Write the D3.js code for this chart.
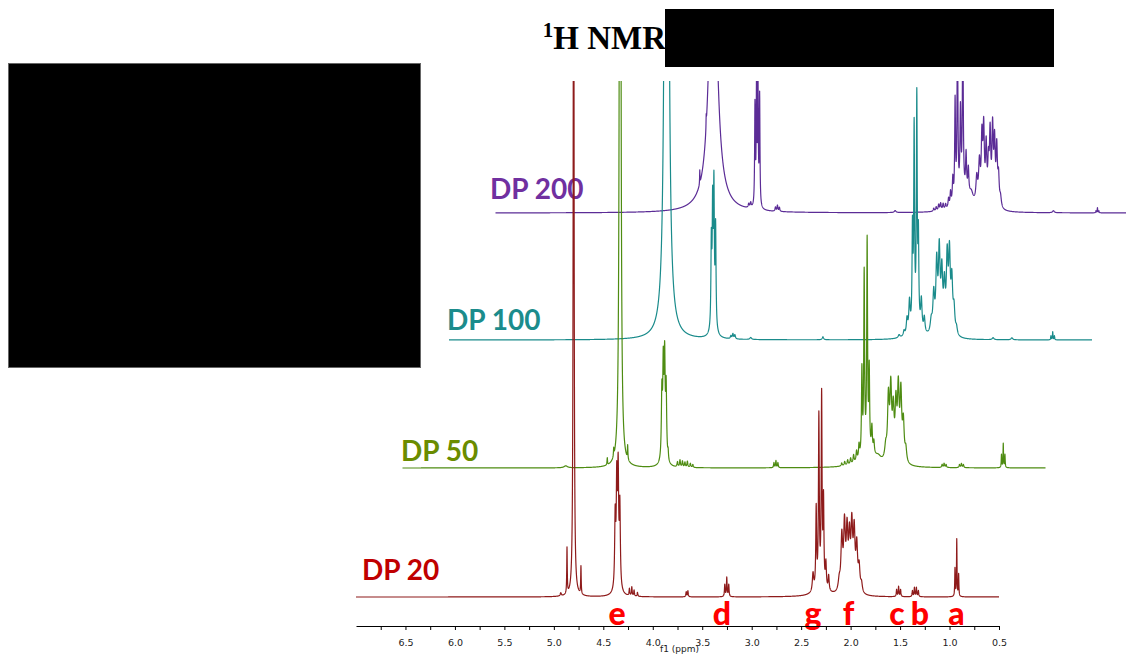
<!DOCTYPE html>
<html><head><meta charset="utf-8">
<script src="https://cdn.jsdelivr.net/npm/d3@7"></script>
<style>body{margin:0;background:#fff}svg{display:block}</style>
</head><body>
<svg id="chart" width="1126" height="655"></svg>
<script>
// ---------------- DATA ----------------
// Peak lists: [chemical shift (ppm), height (a.u.), half-width (ppm)]
const peaksDP20 = [
  [4.930, 3, 0.006], [4.867, 46, 0.003], [4.800, 900, 0.0045], [4.726, 28, 0.003],
  [4.380, 70, 0.006], [4.364, 100, 0.006], [4.350, 110, 0.006], [4.333, 80, 0.006], [4.357, 8, 0.03],
  [4.236, 7, 0.004], [4.212, 9, 0.004], [4.189, 6, 0.004], [4.155, 4, 0.004],
  [3.662, 5, 0.004], [3.645, 6, 0.004],
  [3.272, 12, 0.004], [3.252, 19, 0.004], [3.232, 12, 0.004],
  [2.300, 6, 0.08], [2.380, 18, 0.008], [2.348, 80, 0.005], [2.321, 170, 0.005], [2.293, 190, 0.005],
  [2.274, 85, 0.005], [2.250, 25, 0.006], [2.222, 15, 0.006],
  [2.115, 11, 0.012], [2.089, 53, 0.010], [2.062, 64, 0.010], [2.036, 57, 0.010], [2.012, 50, 0.010],
  [1.988, 62, 0.010], [1.964, 57, 0.010], [1.938, 44, 0.010], [1.914, 24, 0.010], [1.890, 9, 0.010],
  [1.535, 7, 0.004], [1.515, 10, 0.004], [1.495, 7, 0.004],
  [1.375, 6, 0.004], [1.355, 9, 0.004], [1.335, 9, 0.004], [1.315, 6, 0.004],
  [0.945, 28, 0.003], [0.927, 57, 0.003], [0.908, 22, 0.003]
];
const peaksDP50 = [
  [5.350, 2, 0.02], [4.930, 7, 0.003], [4.865, 8, 0.003], [4.800, 1500, 0.006], [4.724, 14, 0.003],
  [4.378, 65, 0.006], [4.364, 88, 0.006], [4.350, 95, 0.006], [4.335, 70, 0.006], [4.357, 6, 0.03], [4.315, 8, 0.004],
  [4.220, 5, 0.005], [4.195, 7, 0.005], [4.170, 6, 0.005], [4.145, 5, 0.005], [4.120, 6, 0.005], [4.090, 4, 0.005], [4.065, 3, 0.005],
  [3.245, 5, 0.004], [3.225, 7, 0.004], [3.205, 5, 0.004],
  [2.280, 12, 0.1], [2.190, 4, 0.03],
  [2.560, 3, 0.006], [2.530, 4, 0.006], [2.500, 5, 0.006], [2.470, 6, 0.006], [2.440, 8, 0.006], [2.410, 10, 0.006], [2.385, 14, 0.006],
  [2.356, 85, 0.005], [2.333, 180, 0.005], [2.303, 210, 0.005], [2.282, 80, 0.005], [2.255, 25, 0.006], [2.235, 12, 0.006],
  [2.115, 13, 0.012], [2.088, 61, 0.010], [2.064, 69, 0.010], [2.039, 47, 0.010], [2.012, 53, 0.010],
  [1.988, 69, 0.010], [1.962, 66, 0.010], [1.937, 38, 0.010], [1.912, 13, 0.010],
  [1.545, 3, 0.005], [1.525, 4, 0.005], [1.505, 3, 0.005],
  [1.370, 3, 0.005], [1.350, 4, 0.005], [1.330, 3, 0.005],
  [0.945, 13, 0.003], [0.927, 24, 0.003], [0.910, 13, 0.003]
];
const peaksDP100 = [
  [4.800, 3000, 0.0095],
  [4.348, 85, 0.005], [4.335, 115, 0.005], [4.322, 135, 0.005], [4.305, 100, 0.005], [4.327, 8, 0.03],
  [4.150, 3, 0.006], [4.130, 5, 0.006], [4.110, 4, 0.006], [3.950, 2, 0.01],
  [3.220, 3, 0.008],
  [2.450, 3, 0.01], [2.400, 5, 0.008], [2.280, 10, 0.06],
  [2.370, 15, 0.008], [2.345, 30, 0.008], [2.315, 95, 0.005], [2.298, 195, 0.005], [2.271, 225, 0.005],
  [2.255, 85, 0.005], [2.225, 30, 0.008], [2.195, 15, 0.008],
  [2.125, 13, 0.012], [2.100, 38, 0.010], [2.070, 68, 0.010], [2.044, 79, 0.010], [2.018, 57, 0.010],
  [1.992, 44, 0.010], [1.964, 72, 0.010], [1.941, 75, 0.010], [1.917, 50, 0.010], [1.895, 24, 0.010], [1.870, 7, 0.010],
  [1.500, 2, 0.01], [1.310, 2, 0.01],
  [0.915, 4, 0.003], [0.897, 8, 0.003], [0.880, 4, 0.003]
];
const peaksDP200 = [
  [4.935, 14, 0.002], [4.870, 12, 0.002], [4.800, 330, 0.042],
  [4.440, 4, 0.006], [4.420, 5, 0.006],
  [4.377, 100, 0.004], [4.361, 125, 0.004], [4.347, 125, 0.004], [4.330, 110, 0.004],
  [4.170, 4, 0.005], [4.150, 6, 0.005], [4.130, 4, 0.005],
  [2.960, 2, 0.01],
  [2.570, 3, 0.006], [2.545, 4, 0.006], [2.520, 6, 0.006], [2.500, 7, 0.006], [2.475, 6, 0.006],
  [2.450, 5, 0.006], [2.420, 9, 0.006], [2.400, 14, 0.006],
  [2.250, 16, 0.08], [2.377, 25, 0.006], [2.354, 100, 0.005], [2.330, 180, 0.005], [2.300, 85, 0.006],
  [2.276, 180, 0.005], [2.243, 38, 0.006], [2.220, 25, 0.006], [2.190, 8, 0.02],
  [2.135, 25, 0.010], [2.108, 40, 0.010], [2.083, 63, 0.008], [2.065, 72, 0.008], [2.040, 56, 0.008],
  [2.017, 38, 0.008], [2.000, 68, 0.008], [1.975, 74, 0.008], [1.955, 60, 0.008], [1.933, 56, 0.008],
  [1.915, 28, 0.008], [1.895, 10, 0.010],
  [1.360, 2, 0.01],
  [0.930, 2, 0.003], [0.915, 5, 0.003], [0.900, 2, 0.003]
];
const seriesNames = ["DP 200", "DP 100", "DP 50", "DP 20"];
const peakLetters = ["e", "d", "g", "f", "c", "b", "a"];
const peakLetterPpm = [4.36, 3.30, 2.38, 2.02, 1.53, 1.30, 0.93];
const majorTicks = [6.5, 6.0, 5.5, 5.0, 4.5, 4.0, 3.5, 3.0, 2.5, 2.0, 1.5, 1.0, 0.5];
const tickLabels = ["6.5", "6.0", "5.5", "5.0", "4.5", "4.0", "3.5", "3.0", "2.5", "2.0", "1.5", "1.0", "0.5"];
const minorTicks = [6.75, 6.25, 5.75, 5.25, 4.75, 4.25, 3.75, 3.25, 2.75, 2.25, 1.75, 1.25, 0.75];
const axisTitle = "f1 (ppm)";
const ppmRange = [7.0, 0.5];

// ---------------- LAYOUT ----------------
const styles = [
  {peaks: peaksDP200, line: "#5b2c96", label: "#7030a0", base: 213, dx: 139.5, lx: 490, ly: 199},
  {peaks: peaksDP100, line: "#1a8b8b", label: "#1b8c8c", base: 340, dx: 93,    lx: 447, ly: 330},
  {peaks: peaksDP50,  line: "#4e8c12", label: "#6a8c00", base: 468, dx: 46.5,  lx: 401, ly: 461},
  {peaks: peaksDP20,  line: "#8e1b1b", label: "#c00000", base: 597, dx: 0,     lx: 362, ly: 580}
];

const svg = d3.select("#chart");
const x = d3.scaleLinear().domain(ppmRange).range([356, 999]);
const yInt = d3.scaleLinear().domain([0, 100]).range([0, 100]);

svg.append("defs").append("clipPath").attr("id", "clip")
  .append("rect").attr("x", 0).attr("y", 81).attr("width", 1126).attr("height", 574);

// series labels (drawn under the traces)
seriesNames.forEach((name, i) => {
  svg.append("text").attr("x", styles[i].lx).attr("y", styles[i].ly)
    .attr("font-family", "Lato, 'Open Sans', sans-serif").attr("font-weight", "bold")
    .attr("font-size", 28).attr("fill", styles[i].label).text(name);
});

// spectra
const grid = d3.range(0, 6501).map(i => ppmRange[0] - i * 0.001);
function spectrum(peaks) {
  return grid.map(p => {
    let v = 0;
    for (const [c, h, w] of peaks) { const t = (p - c) / w; v += h / (1 + t * t); }
    return [p, v];
  });
}
const g = svg.append("g").attr("clip-path", "url(#clip)");
styles.forEach(s => {
  const line = d3.line().x(d => x(d[0]) + s.dx).y(d => s.base - yInt(d[1]));
  g.append("path").datum(spectrum(s.peaks)).attr("d", line)
    .attr("fill", "none").attr("stroke", s.line).attr("stroke-width", 1.2)
    .attr("stroke-linejoin", "round");
});

// peak assignment letters
peakLetters.forEach((L, i) => {
  svg.append("text").attr("x", x(peakLetterPpm[i])).attr("y", 625)
    .attr("text-anchor", "middle")
    .attr("font-family", "Lato, 'Open Sans', sans-serif").attr("font-weight", "900")
    .attr("font-size", 32).attr("fill", "#ff0000").text(L);
});

// axis
const allTicks = majorTicks.concat(minorTicks);
const axis = d3.axisBottom(x).tickValues(allTicks).tickSize(4).tickSizeOuter(0).tickPadding(9)
  .tickFormat(d => { const k = majorTicks.indexOf(d); return k >= 0 ? tickLabels[k] : ""; });
const ag = svg.append("g").attr("transform", "translate(0,626)").call(axis);
ag.selectAll("text").attr("font-family", "'DejaVu Sans', Verdana, sans-serif").attr("font-size", 9.5).attr("fill", "#222");
ag.select(".domain").attr("stroke", "#000");
ag.selectAll(".tick line").attr("stroke", "#000");
svg.append("text").attr("x", (x(ppmRange[0]) + x(ppmRange[1])) / 2 + 2).attr("y", 652)
  .attr("text-anchor", "middle").attr("font-family", "'DejaVu Sans', Verdana, sans-serif")
  .attr("font-size", 9).attr("fill", "#222").text(axisTitle);

// title
const title = svg.append("text").attr("x", 666).attr("y", 49).attr("text-anchor", "end")
  .attr("font-family", "'Liberation Serif', 'Times New Roman', serif").attr("font-weight", "bold").attr("fill", "#000");
title.append("tspan").attr("font-size", 21).attr("dy", -12).text("1");
title.append("tspan").attr("font-size", 33).attr("dy", 12).text("H NMR");

// redaction boxes
svg.append("rect").attr("x", 665).attr("y", 9).attr("width", 389).attr("height", 58).attr("fill", "#000");
svg.append("rect").attr("x", 8.5).attr("y", 63.5).attr("width", 412).attr("height", 304)
  .attr("fill", "#000").attr("stroke", "#666").attr("stroke-width", 1);
</script>
</body></html>
